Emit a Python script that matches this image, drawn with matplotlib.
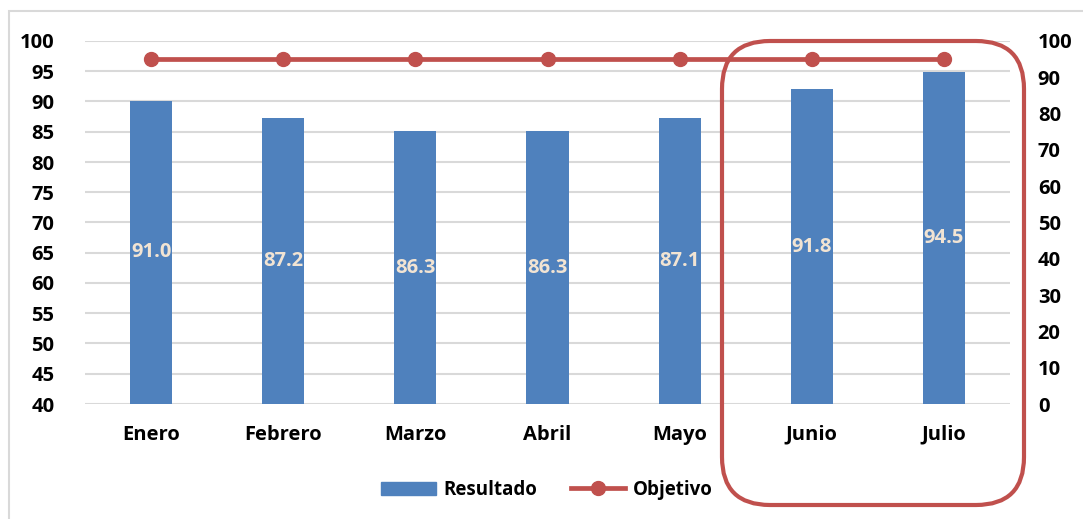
import matplotlib
matplotlib.use("Agg")
import matplotlib.pyplot as plt
import matplotlib.patches as mpatches
from matplotlib.transforms import IdentityTransform
from matplotlib.lines import Line2D

meses = ["Enero", "Febrero", "Marzo", "Abril", "Mayo", "Junio", "Julio"]
resultado = [90.1, 87.2, 85.1, 85.1, 87.2, 92.0, 94.8]
etiquetas = ["91.0", "87.2", "86.3", "86.3", "87.1", "91.8", "94.5"]
objetivo = [95, 95, 95, 95, 95, 95, 95]

azul = "#4f81bd"
rojo = "#c0504d"
gris = "#d9d9d9"

plt.rcParams['font.family'] = ['Open Sans', 'DejaVu Sans']
plt.rcParams['font.weight'] = 'bold'

fig = plt.figure(figsize=(10.83, 5.19), dpi=100)
ax = fig.add_axes([85/1083, 115/519, 925/1083, 363/519])
ax2 = ax.twinx()

x = range(len(meses))
ax.set_xlim(-0.5, len(meses) - 0.5)
ax.set_ylim(40, 100)
ax.set_yticks(range(40, 101, 5))
ax.yaxis.grid(True, color=gris, lw=1.5)
ax.set_axisbelow(True)
barras = ax.bar(x, resultado, width=0.32, bottom=0, color=azul, zorder=2)
for b, t in zip(barras, etiquetas):
    ax.text(b.get_x() + b.get_width() / 2, (40 + b.get_height()) / 2, t,
            ha="center", va="center", color="#f2e4d3", fontsize=14.5, fontweight="bold", zorder=3)

ax2.set_ylim(0, 100)
ax2.set_yticks(range(0, 101, 10))
ax2.plot(x, objetivo, color=rojo, lw=3.4, marker="o", markersize=10, zorder=4)

ax.set_xticks(list(x))
ax.set_xticklabels(meses)
for a in (ax, ax2):
    for s in a.spines.values():
        s.set_visible(False)
    a.tick_params(length=0, labelsize=14.5)
    for lbl in a.get_xticklabels() + a.get_yticklabels():
        lbl.set_fontweight("bold")
ax.tick_params(axis="x", pad=15)
ax.tick_params(axis="y", pad=22)
ax2.tick_params(axis="y", pad=20)

handles = [mpatches.Patch(color=azul), Line2D([], [], color=rojo, lw=3.4, marker="o", markersize=10)]
fig.legend(handles, ["Resultado", "Objetivo"], loc="center", bbox_to_anchor=(0.505, 0.056),
           ncol=2, frameon=False, prop={"size": 13.5, "weight": "bold"},
           handlelength=2.9, handleheight=0.7, handletextpad=0.4, columnspacing=1.8)

# borde exterior
fig.add_artist(mpatches.Rectangle((9, -20), 1100, 528, transform=IdentityTransform(),
                                  fill=False, ec=gris, lw=1.5))
# recuadro redondeado Junio-Julio
fig.add_artist(mpatches.FancyBboxPatch((722, 14), 302, 464, boxstyle="round,pad=0,rounding_size=48",
                                       transform=IdentityTransform(), fill=False, ec=rojo, lw=3, zorder=10))

fig.savefig("out.png", dpi=100)
